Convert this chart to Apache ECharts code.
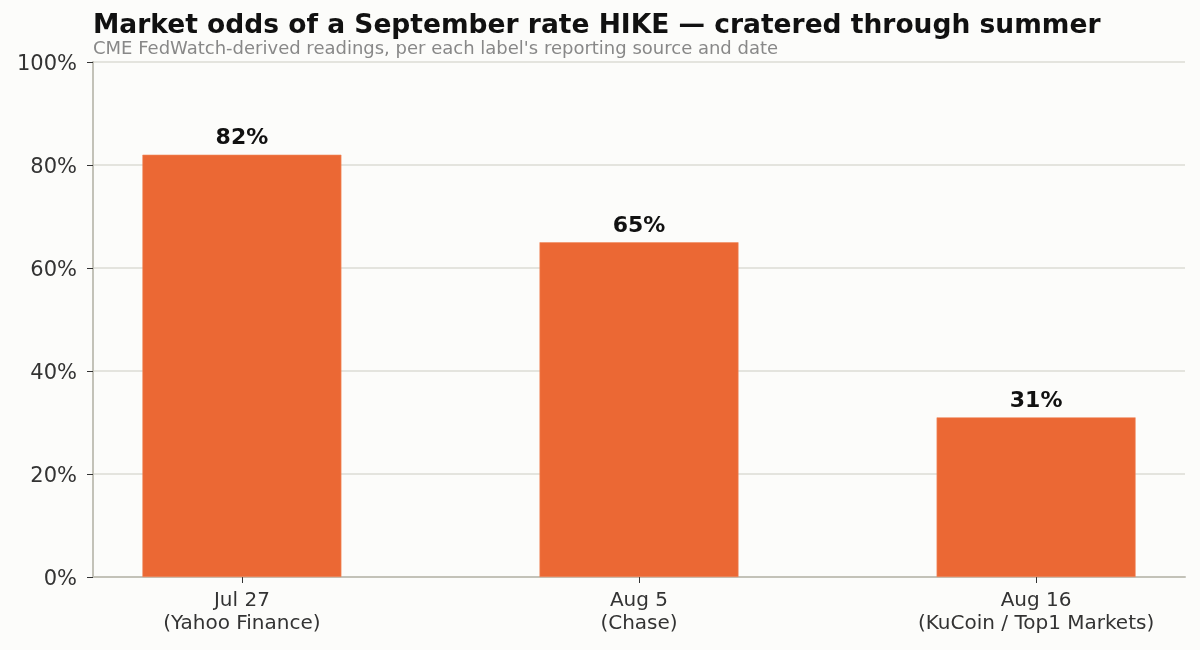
<!DOCTYPE html>
<html><head><meta charset="utf-8">
<script src="https://cdn.jsdelivr.net/npm/echarts@6/dist/echarts.min.js"></script>
<style>html,body{margin:0;padding:0;background:#fcfcfa;}#c{width:1200px;height:650px;}</style>
</head><body><div id="c"></div>
<script>
const categories = ['Jul 27\n(Yahoo Finance)', 'Aug 5\n(Chase)', 'Aug 16\n(KuCoin / Top1 Markets)'];
const hikeOdds = [82, 65, 31];
const yTicks = [0, 20, 40, 60, 80, 100];

const positions = categories.map((c, i) => i);
const barData = hikeOdds.map((v, i) => [positions[i], v]);

const chart = echarts.init(document.getElementById('c'), null, {renderer: 'canvas'});
chart.setOption({
  backgroundColor: '#fcfcfa',
  animation: false,
  textStyle: {fontFamily: 'DejaVu Sans'},
  title: {
    text: 'Market odds of a September rate HIKE — cratered through summer',
    subtext: "CME FedWatch-derived readings, per each label's reporting source and date",
    left: 93, top: 13, itemGap: 0, padding: 0,
    textStyle: {fontFamily: 'DejaVu Sans', fontSize: 26.5, fontWeight: 'bold', color: '#111'},
    subtextStyle: {fontFamily: 'DejaVu Sans', fontSize: 18, color: '#888'}
  },
  grid: {left: 93, right: 15, top: 62, bottom: 73, containLabel: false},
  xAxis: {
    type: 'value', min: -0.375, max: 2.375,
    splitLine: {show: false},
    axisLine: {onZero: false, lineStyle: {color: '#c3c2b8', width: 2}},
    axisTick: {show: true, customValues: positions, length: 6, lineStyle: {color: '#333'}},
    axisLabel: {customValues: positions, formatter: v => categories[Math.round(v)],
      color: '#333', fontSize: 20, lineHeight: 23, margin: 12, fontFamily: 'DejaVu Sans'}
  },
  yAxis: {
    type: 'value', min: yTicks[0], max: yTicks[yTicks.length - 1], interval: 20,
    axisLine: {show: true, onZero: false, lineStyle: {color: '#c3c2b8', width: 2}},
    axisTick: {show: true, length: 6, lineStyle: {color: '#333'}},
    axisLabel: {formatter: '{a|{value}%}', margin: 16,
      rich: {a: {color: '#333', fontSize: 21, fontFamily: 'DejaVu Sans', padding: [5, 0, 0, 0]}}},
    splitLine: {lineStyle: {color: '#dcdcd5', width: 1.5}}
  },
  series: [{
    type: 'bar', data: barData, barWidth: 199,
    itemStyle: {color: '#eb6834', borderColor: '#f08a5e', borderWidth: 0.6},
    label: {show: true, position: 'top', distance: 5, formatter: p => p.value[1] + '%', fontSize: 22, fontWeight: 'bold', color: '#111', fontFamily: 'DejaVu Sans'}
  }]
});
</script></body></html>
